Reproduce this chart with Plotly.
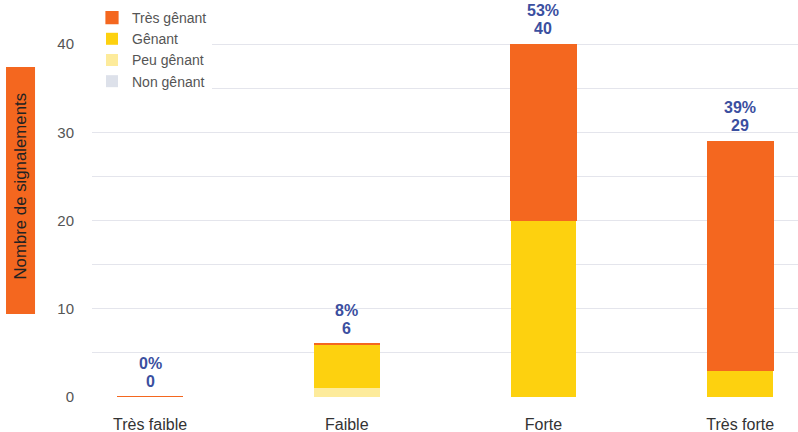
import plotly.graph_objects as go

categories = ["Très faible", "Faible", "Forte", "Très forte"]
non_genant = [0, 0, 0, 0]
peu_genant = [0, 1, 0, 0]
genant = [0, 5, 20, 3]
tres_genant = [0, 0, 20, 26]
y_ticks = [0, 10, 20, 30, 40]

series = [
    ("Non gênant", non_genant, "#DDE1EA"),
    ("Peu gênant", peu_genant, "#FDEB9B"),
    ("Gênant", genant, "#FDD10F"),
    ("Très gênant", tres_genant, "#F4671F"),
]

totals = [sum(v) for v in zip(non_genant, peu_genant, genant, tres_genant)]
grand = sum(totals)

fig = go.Figure()
for name, vals, col in series:
    line = dict(width=1.2, color=col) if name == "Très gênant" else dict(width=0)
    fig.add_trace(go.Bar(x=categories, y=vals, name=name,
                         marker=dict(color=col, line=line), width=0.335))

for c, t in zip(categories, totals):
    fig.add_annotation(x=c, y=t, yanchor="middle", yshift=16, showarrow=False,
                       text=f"<b>{t}</b>",
                       font=dict(size=16, color="#3B4FA0"))
    fig.add_annotation(x=c, y=t, yanchor="middle", yshift=34, showarrow=False,
                       text=f"<b>{round(100*t/grand)}%</b>",
                       font=dict(size=16, color="#3B4FA0"))

fig.add_shape(type="rect", xref="paper", yref="paper",
              x0=-0.1218, x1=-0.0807, y0=0.209, y1=0.831,
              fillcolor="#F4671F", line=dict(width=0), layer="above")
fig.add_annotation(xref="paper", yref="paper", x=-0.1015, y=0.531,
                   xanchor="center", yanchor="middle",
                   text="Nombre de signalements", textangle=-90, showarrow=False,
                   font=dict(size=16.8, color="#222"))

fig.update_layout(
    width=798, height=432,
    margin=dict(l=92, r=0, t=0, b=35),
    barmode="stack",
    plot_bgcolor="white", paper_bgcolor="white",
    font=dict(family="Liberation Sans, Arial, sans-serif", size=15, color="#555"),
    legend=dict(x=0.0, y=0.995, xanchor="left", yanchor="top",
                bgcolor="white", traceorder="reversed",
                font=dict(size=14, color="#555"), tracegroupgap=0,
                itemclick=False),
    xaxis=dict(range=[-0.295, 3.294], showline=False, ticks="",
               ticklabelstandoff=16,
               tickfont=dict(size=16, color="#333")),
    yaxis=dict(range=[0, 45], tickvals=y_ticks, showgrid=True,
               gridcolor="#E4E5EC", zeroline=False, ticks="",
               ticklabelstandoff=17,
               tickfont=dict(size=15, color="#555"),
               minor=dict(dtick=5, showgrid=True, gridcolor="#E4E5EC")),
    showlegend=True,
)

fig.write_html("out.html", config={"displayModeBar": False},
               post_script="document.body.style.margin='0';")
